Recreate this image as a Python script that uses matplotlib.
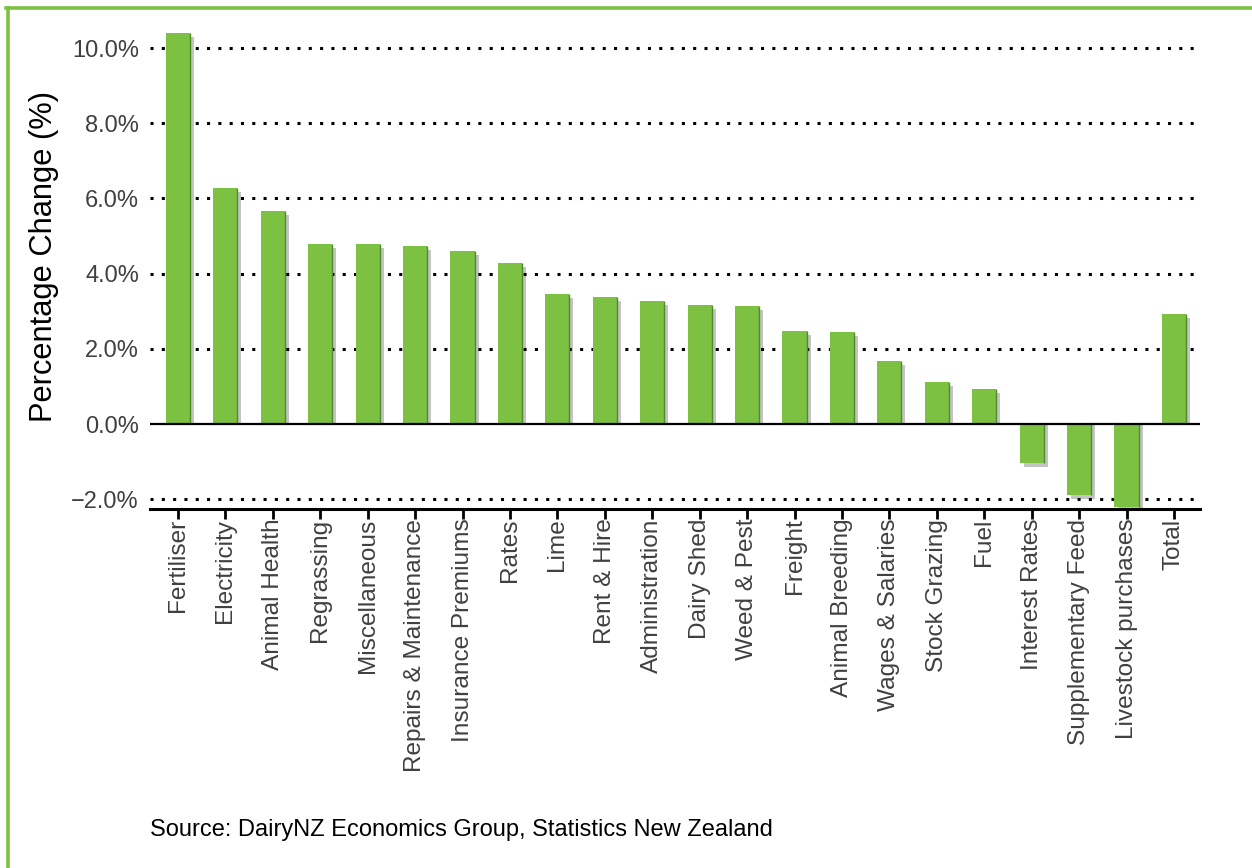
import matplotlib
matplotlib.use("Agg")
import matplotlib.pyplot as plt
import matplotlib.transforms as mtransforms
from matplotlib.lines import Line2D
import numpy as np

plt.rcParams['font.family'] = ['Liberation Sans', 'DejaVu Sans']

categories = ['Fertiliser', 'Electricity', 'Animal Health', 'Regrassing',
              'Miscellaneous', 'Repairs & Maintenance', 'Insurance Premiums',
              'Rates', 'Lime', 'Rent & Hire', 'Administration', 'Dairy Shed',
              'Weed & Pest', 'Freight', 'Animal Breeding', 'Wages & Salaries',
              'Stock Grazing', 'Fuel', 'Interest Rates', 'Supplementary Feed',
              'Livestock purchases', 'Total']
changes = [10.40, 6.28, 5.66, 4.79, 4.79, 4.73, 4.60, 4.28, 3.46, 3.38,
           3.27, 3.16, 3.14, 2.47, 2.45, 1.68, 1.12, 0.93, -1.04, -1.89,
           -2.21, 2.93]
yticks = [-2, 0, 2, 4, 6, 8, 10]

green = '#7dc142'
fig = plt.figure(figsize=(12.52, 8.68), dpi=100)
ax = fig.add_axes([0.1198, 0.4136, 0.8387, 0.5518])

x = np.arange(len(categories))
w = 0.51

# drop shadow: bars nudged right, their far end pulled a little further down
shadow = mtransforms.offset_copy(ax.transData, fig=fig, x=4, y=0, units='dots')
drop = 0.106
ax.bar(x, [v - drop for v in changes], width=w, color='#c4c4c4', linewidth=0,
       transform=shadow, zorder=1)
ax.bar(x, changes, width=w, color=green, linewidth=0, zorder=3)
ax.vlines(x + w / 2, 0, changes, color='#4f8a2b', lw=1.0, zorder=4)

for t in yticks:
    if t == 0:
        continue
    ax.axhline(t, color='black', lw=2.2, linestyle=(0, (1, 2.7)), zorder=2)
ax.axhline(0, color='black', lw=1.6, zorder=5)

ax.set_xlim(-0.59, len(categories) - 0.45)
ax.set_ylim(-2.26, 10.48)
ax.set_yticks(yticks)
ax.set_yticklabels(['\u2212%.1f%%' % -t if t < 0 else '%.1f%%' % t for t in yticks],
                   fontsize=17, color='#404040')
ax.tick_params(axis='y', length=0, pad=8)
ax.set_xticks(x)
ax.set_xticklabels(categories, rotation=90, fontsize=17.6, color='#404040')
ax.tick_params(axis='x', length=7, width=2, color='black', pad=0)

for s in ['top', 'right', 'left']:
    ax.spines[s].set_visible(False)
ax.spines['bottom'].set_linewidth(2.2)

ax.set_ylabel('Percentage Change (%)', fontsize=22.2, color='black')
ax.yaxis.set_label_coords(-0.087, 0.528)

fig.text(0.1198, 0.0438, 'Source: DairyNZ Economics Group, Statistics New Zealand',
         fontsize=17, color='black', va='center')

# green frame along the top and left edges
fig.add_artist(Line2D([7.5 / 1252, 7.5 / 1252], [0, 1 - 7.5 / 868], color=green, lw=2.6,
                      transform=fig.transFigure))
fig.add_artist(Line2D([6 / 1252, 1], [1 - 7.5 / 868, 1 - 7.5 / 868], color=green, lw=2.6,
                      transform=fig.transFigure))

fig.savefig('out.png', dpi=100)
